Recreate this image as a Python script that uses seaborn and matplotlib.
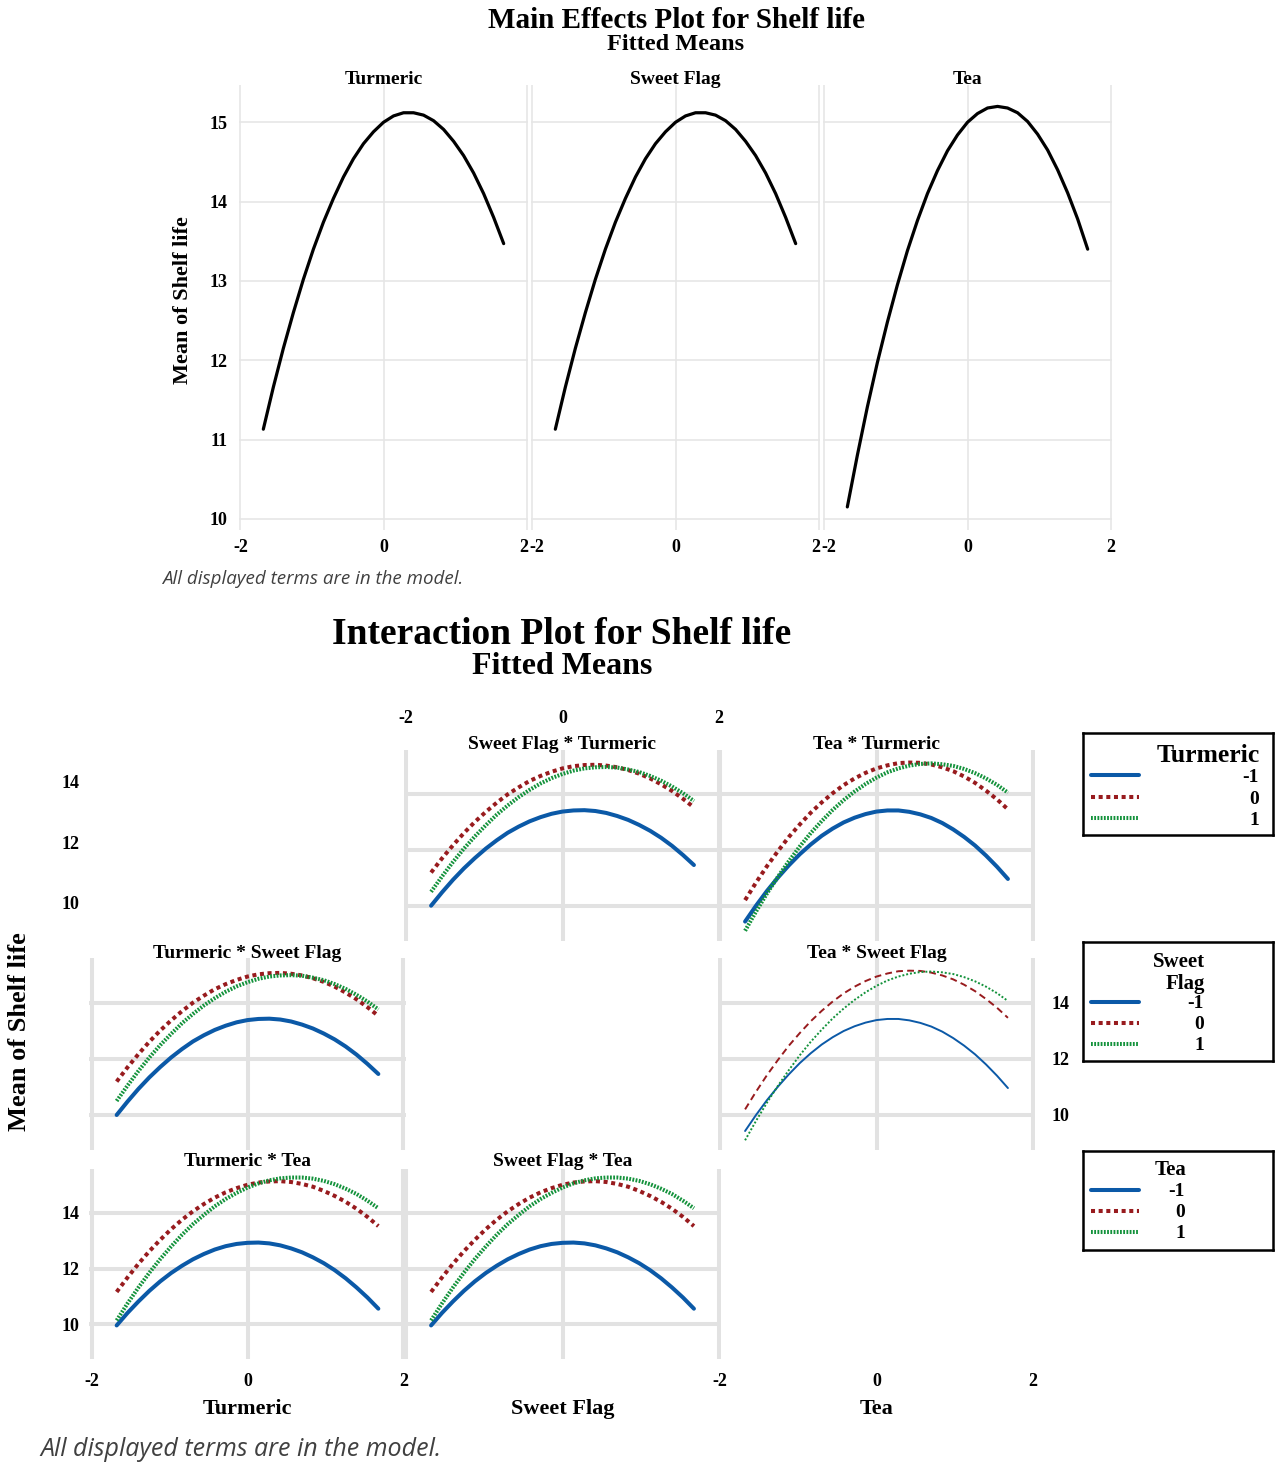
import matplotlib
matplotlib.use("Agg")
import matplotlib.pyplot as plt
import matplotlib.transforms as mtransforms
import numpy as np
import pandas as pd
import seaborn as sns

# ---------------- data ----------------
x_coded = [-1.68, -1.54, -1.40, -1.26, -1.12, -0.98, -0.84, -0.70, -0.56, -0.42, -0.28, -0.14, 0.00,
           0.14, 0.28, 0.42, 0.56, 0.70, 0.84, 0.98, 1.12, 1.26, 1.40, 1.54, 1.68]

main_factors = ["Turmeric", "Sweet Flag", "Tea"]
main_turmeric = [11.13, 11.66, 12.15, 12.60, 13.02, 13.40, 13.74, 14.04, 14.31, 14.54, 14.73, 14.88, 15.00,
                 15.08, 15.12, 15.12, 15.09, 15.02, 14.91, 14.76, 14.58, 14.36, 14.10, 13.80, 13.47]
main_sweet_flag = [11.13, 11.66, 12.15, 12.60, 13.02, 13.40, 13.74, 14.04, 14.31, 14.54, 14.73, 14.88, 15.00,
                   15.08, 15.12, 15.12, 15.09, 15.02, 14.91, 14.76, 14.58, 14.36, 14.10, 13.80, 13.47]
main_tea = [10.15, 10.80, 11.41, 11.97, 12.48, 12.95, 13.38, 13.76, 14.10, 14.39, 14.64, 14.84, 15.00,
            15.11, 15.18, 15.20, 15.18, 15.12, 15.01, 14.85, 14.65, 14.40, 14.11, 13.78, 13.40]

trace_levels = ["-1", "0", "1"]

# x = Sweet Flag, traces = Turmeric levels
sf_by_tu_m1 = [10.00, 10.48, 10.93, 11.34, 11.71, 12.05, 12.35, 12.62, 12.84, 13.03, 13.18, 13.30, 13.38,
               13.42, 13.43, 13.40, 13.33, 13.22, 13.08, 12.90, 12.69, 12.44, 12.15, 11.82, 11.46]
sf_by_tu_0 = [11.19, 11.70, 12.17, 12.61, 13.01, 13.37, 13.70, 14.00, 14.25, 14.48, 14.66, 14.81, 14.93,
              15.01, 15.05, 15.06, 15.03, 14.97, 14.87, 14.74, 14.57, 14.36, 14.12, 13.84, 13.53]
sf_by_tu_1 = [10.50, 11.05, 11.57, 12.05, 12.49, 12.89, 13.27, 13.60, 13.90, 14.16, 14.39, 14.58, 14.73,
              14.85, 14.93, 14.97, 14.98, 14.96, 14.89, 14.80, 14.66, 14.49, 14.28, 14.04, 13.76]
# x = Tea, traces = Turmeric levels
tea_by_tu_m1 = [9.43, 10.00, 10.53, 11.01, 11.45, 11.85, 12.20, 12.51, 12.77, 12.99, 13.16, 13.29, 13.38,
                13.42, 13.42, 13.37, 13.28, 13.15, 12.97, 12.74, 12.47, 12.16, 11.80, 11.40, 10.96]
tea_by_tu_0 = [10.20, 10.83, 11.42, 11.96, 12.47, 12.92, 13.34, 13.71, 14.04, 14.33, 14.57, 14.77, 14.93,
               15.04, 15.12, 15.14, 15.13, 15.07, 14.97, 14.83, 14.64, 14.41, 14.13, 13.82, 13.46]
tea_by_tu_1 = [9.10, 9.79, 10.44, 11.04, 11.60, 12.13, 12.61, 13.04, 13.44, 13.79, 14.10, 14.37, 14.60,
               14.79, 14.93, 15.03, 15.09, 15.11, 15.08, 15.02, 14.91, 14.76, 14.57, 14.34, 14.06]
# x = Turmeric, traces = Sweet Flag levels
tu_by_sf_m1 = [10.00, 10.48, 10.93, 11.34, 11.71, 12.05, 12.35, 12.62, 12.84, 13.03, 13.18, 13.30, 13.38,
               13.42, 13.43, 13.40, 13.33, 13.22, 13.08, 12.90, 12.69, 12.44, 12.15, 11.82, 11.46]
tu_by_sf_0 = [11.19, 11.70, 12.17, 12.61, 13.01, 13.37, 13.70, 14.00, 14.25, 14.48, 14.66, 14.81, 14.93,
              15.01, 15.05, 15.06, 15.03, 14.97, 14.87, 14.74, 14.57, 14.36, 14.12, 13.84, 13.53]
tu_by_sf_1 = [10.50, 11.05, 11.57, 12.05, 12.49, 12.89, 13.27, 13.60, 13.90, 14.16, 14.39, 14.58, 14.73,
              14.85, 14.93, 14.97, 14.98, 14.96, 14.89, 14.80, 14.66, 14.49, 14.28, 14.04, 13.76]
# x = Tea, traces = Sweet Flag levels
tea_by_sf_m1 = [9.43, 10.00, 10.53, 11.01, 11.45, 11.85, 12.20, 12.51, 12.77, 12.99, 13.16, 13.29, 13.38,
                13.42, 13.42, 13.37, 13.28, 13.15, 12.97, 12.74, 12.47, 12.16, 11.80, 11.40, 10.96]
tea_by_sf_0 = [10.20, 10.83, 11.42, 11.96, 12.47, 12.92, 13.34, 13.71, 14.04, 14.33, 14.57, 14.77, 14.93,
               15.04, 15.12, 15.14, 15.13, 15.07, 14.97, 14.83, 14.64, 14.41, 14.13, 13.82, 13.46]
tea_by_sf_1 = [9.10, 9.79, 10.44, 11.04, 11.60, 12.13, 12.61, 13.04, 13.44, 13.79, 14.10, 14.37, 14.60,
               14.79, 14.93, 15.03, 15.09, 15.11, 15.08, 15.02, 14.91, 14.76, 14.57, 14.34, 14.06]
# x = Turmeric, traces = Tea levels
tu_by_tea_m1 = [9.96, 10.41, 10.82, 11.20, 11.54, 11.84, 12.10, 12.33, 12.52, 12.68, 12.80, 12.88, 12.92,
                12.93, 12.90, 12.83, 12.72, 12.58, 12.40, 12.19, 11.94, 11.65, 11.32, 10.96, 10.56]
tu_by_tea_0 = [11.16, 11.68, 12.17, 12.62, 13.03, 13.41, 13.75, 14.05, 14.31, 14.54, 14.73, 14.88, 15.00,
               15.08, 15.12, 15.13, 15.10, 15.03, 14.93, 14.78, 14.60, 14.39, 14.14, 13.85, 13.52]
tu_by_tea_1 = [10.14, 10.75, 11.32, 11.85, 12.34, 12.79, 13.21, 13.59, 13.92, 14.23, 14.49, 14.71, 14.90,
               15.05, 15.16, 15.23, 15.26, 15.26, 15.22, 15.14, 15.02, 14.86, 14.67, 14.43, 14.16]
# x = Sweet Flag, traces = Tea levels
sf_by_tea_m1 = [9.96, 10.41, 10.82, 11.20, 11.54, 11.84, 12.10, 12.33, 12.52, 12.68, 12.80, 12.88, 12.92,
                12.93, 12.90, 12.83, 12.72, 12.58, 12.40, 12.19, 11.94, 11.65, 11.32, 10.96, 10.56]
sf_by_tea_0 = [11.16, 11.68, 12.17, 12.62, 13.03, 13.41, 13.75, 14.05, 14.31, 14.54, 14.73, 14.88, 15.00,
               15.08, 15.12, 15.13, 15.10, 15.03, 14.93, 14.78, 14.60, 14.39, 14.14, 13.85, 13.52]
sf_by_tea_1 = [10.14, 10.75, 11.32, 11.85, 12.34, 12.79, 13.21, 13.59, 13.92, 14.23, 14.49, 14.71, 14.90,
               15.05, 15.16, 15.23, 15.26, 15.26, 15.22, 15.14, 15.02, 14.86, 14.67, 14.43, 14.16]

x_ticks = [-2, 0, 2]
me_yticks = [10, 11, 12, 13, 14, 15]
ia_yticks = [10, 12, 14]
footnote = "All displayed terms are in the model."

# ---------------- style ----------------
sns.set_theme(style="white")
plt.rcParams["font.family"] = ["Liberation Serif", "DejaVu Serif"]
plt.rcParams["font.weight"] = "bold"
plt.rcParams["axes.unicode_minus"] = False
for key in ["text.color", "axes.labelcolor", "xtick.color", "ytick.color"]:
    plt.rcParams[key] = "black"

W, H = 1277, 1462
fig = plt.figure(figsize=(W / 100, H / 100), dpi=100)
fig.patch.set_facecolor("white")


def px_axes(l, t, r, b):
    ax = fig.add_axes([l / W, 1 - b / H, (r - l) / W, (b - t) / H])
    ax.set_facecolor("none")
    return ax


def ftext(x, y, s, **kw):
    return fig.text(x / W, 1 - y / H, s, **kw)


def nudge(label, dx_px):
    label.set_transform(label.get_transform() +
                        mtransforms.ScaledTranslation(dx_px / 100, 0, fig.dpi_scale_trans))


BLUE, RED, GREEN = "#0b59a7", "#981b1e", "#13923b"
GRID_LIGHT = "#e6e6e6"
GRID_HEAVY = "#e2e2e2"
COLORS = [BLUE, RED, GREEN]
THICK = dict(lw=2.9, styles=["-", (0, (1.0, 0.9)), (0, (0.45, 0.35))])
THIN = dict(lw=1.4, styles=["-", (0, (3.5, 2.2)), (0, (1.0, 1.0))])

# ---------------- main effects plot ----------------
ftext(676, 21, "Main Effects Plot for Shelf life", ha="center", va="center", fontsize=21, fontweight="bold")
ftext(676, 44, "Fitted Means", ha="center", va="center", fontsize=17.5, fontweight="bold")

me_vals = [main_turmeric, main_sweet_flag, main_tea]
me_cols = [(239, 528), (531, 820), (823, 1112)]
for i, (name, vals, (l, r)) in enumerate(zip(main_factors, me_vals, me_cols)):
    ax = px_axes(l, 85, r, 522)
    df = pd.DataFrame({"level": x_coded, "mean": vals})
    sns.lineplot(data=df, x="level", y="mean", ax=ax, color="black", linewidth=2.3, errorbar=None)
    ax.set_xlim(-2.02, 2.02)
    ax.set_ylim(9.96, 15.47)
    ax.set_xticks(x_ticks)
    ax.set_yticks(me_yticks)
    ax.grid(True, color=GRID_LIGHT, linewidth=1.2)
    ax.set_axisbelow(True)
    for s in ax.spines.values():
        s.set_visible(False)
    ax.tick_params(axis="x", bottom=True, length=6, width=1.2, color=GRID_LIGHT, pad=6, labelsize=13)
    ax.tick_params(axis="y", left=False, length=0, pad=8, labelsize=13, labelleft=(i == 0))
    ax.set_xlabel("")
    ax.set_ylabel("")
    ax.set_title(name, fontsize=14, fontweight="bold", pad=1)
    xl = ax.get_xticklabels()
    if i > 0:
        nudge(xl[0], 4)
    if i < 2:
        nudge(xl[-1], -3)

ftext(183, 300, "Mean of Shelf life", rotation=90, ha="center", va="center", fontsize=16, fontweight="bold")
ftext(162, 579, footnote, ha="left", va="center", fontsize=13.5, style="italic", fontweight="normal",
      family=["Open Sans", "DejaVu Sans"], color="#404040")

# ---------------- interaction plot ----------------
ftext(562, 634, "Interaction Plot for Shelf life", ha="center", va="center", fontsize=27, fontweight="bold")
ftext(562, 667, "Fitted Means", ha="center", va="center", fontsize=23, fontweight="bold")

cols_px = [(89.4, 405.6), (403.7, 721.3), (717.7, 1035.3)]
rows_px = [(750.3, 940.5), (958.3, 1150.1), (1168.6, 1359.2)]
col_centers = [247.5, 562.5, 876.5]
title_ys = [744, 954, 1162]
YLIM = (8.75, 15.58)
XLIM = (-2.03, 2.03)

panels = [
    (0, 1, "Sweet Flag * Turmeric", [sf_by_tu_m1, sf_by_tu_0, sf_by_tu_1], THICK),
    (0, 2, "Tea * Turmeric", [tea_by_tu_m1, tea_by_tu_0, tea_by_tu_1], THICK),
    (1, 0, "Turmeric * Sweet Flag", [tu_by_sf_m1, tu_by_sf_0, tu_by_sf_1], THICK),
    (1, 2, "Tea * Sweet Flag", [tea_by_sf_m1, tea_by_sf_0, tea_by_sf_1], THIN),
    (2, 0, "Turmeric * Tea", [tu_by_tea_m1, tu_by_tea_0, tu_by_tea_1], THICK),
    (2, 1, "Sweet Flag * Tea", [sf_by_tea_m1, sf_by_tea_0, sf_by_tea_1], THICK),
]

axes = {}
for row, col, title, series, sty in panels:
    l, r = cols_px[col]
    t, b = rows_px[row]
    ax = px_axes(l, t, r, b)
    for lvl, vals, color, ls in zip(trace_levels, series, COLORS, sty["styles"]):
        df = pd.DataFrame({"x": x_coded, "mean": vals})
        sns.lineplot(data=df, x="x", y="mean", ax=ax, color=color, linewidth=sty["lw"],
                     linestyle=ls, errorbar=None)
    ax.set_xlim(*XLIM)
    ax.set_ylim(*YLIM)
    ax.set_xticks(x_ticks)
    ax.set_yticks(ia_yticks)
    ax.grid(True, color=GRID_HEAVY, linewidth=2.9)
    ax.set_axisbelow(True)
    for s in ax.spines.values():
        s.set_visible(False)
    ax.tick_params(axis="both", length=0, labelbottom=False, labelleft=False, labelsize=13)
    ax.set_xlabel("")
    ax.set_ylabel("")
    ftext(col_centers[col], title_ys[row], title, ha="center", va="center", fontsize=14, fontweight="bold")
    axes[(row, col)] = ax

# tick labels placed as in the reference
ax = axes[(0, 1)]
ax.tick_params(axis="x", top=True, labeltop=True, bottom=False, labelbottom=False, length=0, pad=17)
ax = axes[(1, 2)]
ax.tick_params(axis="y", right=True, labelright=True, left=False, labelleft=False, length=0, pad=12)
ax = axes[(2, 0)]
ax.tick_params(axis="y", labelleft=True, pad=7)
ax.tick_params(axis="x", labelbottom=True, pad=10)

# row 1 y labels (empty diagonal cell)
ax = px_axes(89.4, 734.2, 405.6, 940.8)
ax.set_ylim(*YLIM)
ax.set_yticks(ia_yticks)
ax.set_xticks([])
ax.grid(False)
for s in ax.spines.values():
    s.set_visible(False)
ax.tick_params(axis="y", length=0, pad=7, labelsize=13)

# column 3 x labels (empty diagonal cell)
ax = px_axes(717.7, 1168.6, 1035.3, 1359.2)
ax.set_xlim(*XLIM)
ax.set_xticks(x_ticks)
ax.set_yticks([])
ax.grid(False)
for s in ax.spines.values():
    s.set_visible(False)
ax.tick_params(axis="x", length=0, pad=10, labelsize=13)

for cx, name in zip(col_centers, main_factors):
    ftext(cx, 1409, name, ha="center", va="center", fontsize=16, fontweight="bold")

ftext(20, 1032, "Mean of Shelf life", rotation=90, ha="center", va="center", fontsize=19, fontweight="bold")
ftext(40, 1449, footnote, ha="left", va="center", fontsize=18, style="italic", fontweight="normal",
      family=["Open Sans", "DejaVu Sans"], color="#404040")


# ---------------- legends ----------------
def legend_box(box, title_lines, title_size, title_right, title_ys_, label_right, entry_ys):
    l, t, r, b = box
    ax = px_axes(l, t, r, b)
    ax.set_xlim(l, r)
    ax.set_ylim(b, t)
    ax.set_xticks([])
    ax.set_yticks([])
    ax.grid(False)
    for s in ax.spines.values():
        s.set_visible(True)
        s.set_color("black")
        s.set_linewidth(1.8)
    for line, ty in zip(title_lines, title_ys_):
        ax.text(title_right, ty + 2, line, ha="right", va="center", fontsize=title_size, fontweight="bold")
    for lvl, ey, color, ls in zip(trace_levels, entry_ys, COLORS, THICK["styles"]):
        ax.plot([1091, 1139], [ey, ey], color=color, lw=THICK["lw"], linestyle=ls)
        ax.text(label_right, ey + 2, lvl, ha="right", va="center", fontsize=14, fontweight="bold")


legend_box((1083, 733, 1273, 835), ["Turmeric"], 18.5, 1260, [753], 1259, [775, 797, 818])
legend_box((1083, 942, 1273, 1061), ["Sweet", "Flag"], 15, 1205, [960, 982], 1204, [1002, 1023, 1044])
legend_box((1083, 1151, 1273, 1250), ["Tea"], 15, 1186, [1168], 1185, [1190, 1211, 1232])

fig.savefig("out.png", dpi=100, facecolor="white")
